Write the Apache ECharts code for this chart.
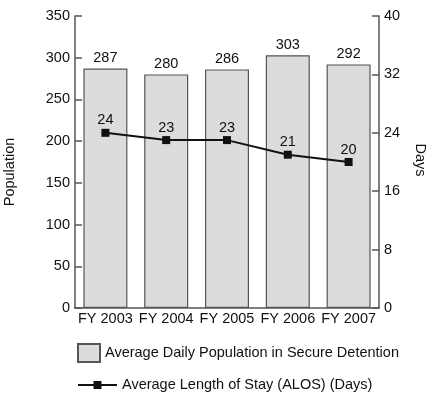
<!DOCTYPE html>
<html><head><meta charset="utf-8">
<script src="https://cdn.jsdelivr.net/npm/echarts@6/dist/echarts.min.js"></script>
<style>html,body{margin:0;padding:0;background:#fff}#c{width:432px;height:393px}</style>
</head><body><div id="c"></div>
<script>
const categories = ['FY 2003','FY 2004','FY 2005','FY 2006','FY 2007'];
const population = [287, 280, 286, 303, 292];
const alos = [24, 23, 23, 21, 20];
const popTicks = {min: 0, max: 350, interval: 50};
const dayTicks = {min: 0, max: 40, interval: 8};
const barName = 'Average Daily Population in Secure Detention';
const lineName = 'Average Length of Stay (ALOS) (Days)';

const FONT = '"Liberation Sans", Arial, sans-serif';
const FS = 14.5;
const TXT = '#111';
const AX = '#555';
const chart = echarts.init(document.getElementById('c'), null, {renderer: 'canvas'});
chart.setOption({
  animation: false,
  textStyle: {fontFamily: FONT},
  grid: {left: 75, right: 53, top: 16, bottom: 85},
  legend: [
    {data: [barName], left: 77, top: 343, padding: 0, itemWidth: 22, itemHeight: 18, icon: 'rect',
     textStyle: {fontSize: FS, color: TXT, fontFamily: FONT}},
    {data: [lineName], left: 77, top: 377.5, padding: 0, itemWidth: 39, itemHeight: 10,
     textStyle: {fontSize: FS, color: TXT, fontFamily: FONT}}
  ],
  xAxis: {type: 'category', data: categories,
    axisLine: {lineStyle: {color: AX, width: 1.5}}, axisTick: {show: false},
    axisLabel: {color: TXT, fontSize: FS, margin: 3, interval: 0, fontFamily: FONT}},
  yAxis: [
    {type: 'value', min: popTicks.min, max: popTicks.max, interval: popTicks.interval,
     splitLine: {show: false},
     axisLine: {show: true, lineStyle: {color: AX, width: 1.5}},
     axisTick: {show: true, inside: true, length: 7, lineStyle: {color: AX, width: 1.5}},
     axisLabel: {color: TXT, fontSize: FS, margin: 5, fontFamily: FONT}},
    {type: 'value', min: dayTicks.min, max: dayTicks.max, interval: dayTicks.interval,
     splitLine: {show: false},
     axisLine: {show: true, lineStyle: {color: AX, width: 1.5}},
     axisTick: {show: true, inside: true, length: 7, lineStyle: {color: AX, width: 1.5}},
     axisLabel: {color: TXT, fontSize: FS, margin: 5, fontFamily: FONT}}
  ],
  graphic: [
    {type: 'text', x: 10, y: 172, rotation: Math.PI/2,
     style: {text: 'Population', font: FS + 'px ' + FONT, fill: TXT, textAlign: 'center', textVerticalAlign: 'middle'}},
    {type: 'text', x: 420, y: 160, rotation: -Math.PI/2,
     style: {text: 'Days', font: FS + 'px ' + FONT, fill: TXT, textAlign: 'center', textVerticalAlign: 'middle'}}
  ],
  series: [
    {name: barName, type: 'bar', data: population, barWidth: 44, yAxisIndex: 0,
     itemStyle: {color: '#dcdcdc', borderColor: '#555', borderWidth: 1.2},
     label: {show: true, position: 'top', distance: 3, color: TXT, fontSize: FS, fontFamily: FONT}},
    {name: lineName, type: 'line', data: alos, yAxisIndex: 1,
     symbol: 'rect', symbolSize: 8,
     lineStyle: {color: '#111', width: 2}, itemStyle: {color: '#111'},
     label: {show: true, position: 'top', distance: 1, color: TXT, fontSize: FS, fontFamily: FONT}}
  ]
});
</script></body></html>
